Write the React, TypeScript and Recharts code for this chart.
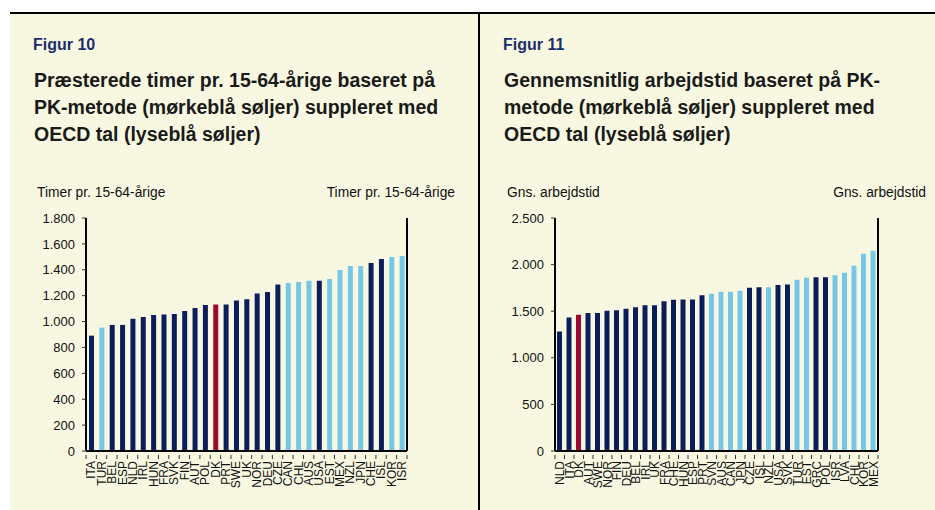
import React from 'react';
import { BarChart, Bar, XAxis, YAxis, Cell } from 'recharts';

const fig10Countries = ['ITA', 'TUR', 'BEL', 'ESP', 'NLD', 'IRL', 'HUN', 'FRA', 'SVK', 'FIN', 'AUT', 'POL', 'DK', 'PRT', 'SWE', 'UK', 'NOR', 'DEU', 'CZE', 'CAN', 'CHL', 'AUS', 'USA', 'EST', 'MEX', 'NZL', 'JPN', 'CHE', 'ISL', 'KOR', 'ISR'];
const fig10Hours = [891, 953, 974, 974, 1022, 1036, 1051, 1054, 1059, 1082, 1105, 1128, 1131, 1131, 1162, 1172, 1216, 1229, 1286, 1298, 1306, 1316, 1316, 1329, 1399, 1430, 1430, 1453, 1484, 1499, 1507];
const fig10Source = ['pk', 'oecd', 'pk', 'pk', 'pk', 'pk', 'pk', 'pk', 'pk', 'pk', 'pk', 'pk', 'dk', 'pk', 'pk', 'pk', 'pk', 'pk', 'pk', 'oecd', 'oecd', 'oecd', 'pk', 'oecd', 'oecd', 'oecd', 'oecd', 'pk', 'pk', 'oecd', 'oecd'];
const fig10Ticks = [0, 200, 400, 600, 800, 1000, 1200, 1400, 1600, 1800];

const fig11Countries = ['NLD', 'ITA', 'DK', 'AUT', 'SWE', 'NOR', 'FIN', 'DEU', 'BEL', 'IRL', 'UK', 'FRA', 'CHE', 'HUN', 'ESP', 'PRT', 'SVN', 'AUS', 'CAN', 'JPN', 'CZE', 'ISL', 'NZL', 'USA', 'SVK', 'TUR', 'EST', 'GRC', 'POL', 'ISR', 'LVA', 'CHL', 'KOR', 'MEX'];
const fig11Hours = [1282, 1432, 1461, 1482, 1482, 1504, 1511, 1525, 1543, 1565, 1565, 1608, 1622, 1625, 1625, 1672, 1686, 1708, 1708, 1719, 1751, 1758, 1758, 1780, 1786, 1837, 1858, 1865, 1865, 1887, 1912, 1987, 2116, 2148];
const fig11Source = ['pk', 'pk', 'dk', 'pk', 'pk', 'pk', 'pk', 'pk', 'pk', 'pk', 'pk', 'pk', 'pk', 'pk', 'pk', 'pk', 'oecd', 'oecd', 'oecd', 'oecd', 'pk', 'pk', 'oecd', 'pk', 'pk', 'oecd', 'oecd', 'pk', 'pk', 'oecd', 'oecd', 'oecd', 'oecd', 'oecd'];
const fig11Ticks = [0, 500, 1000, 1500, 2000, 2500];

const COLORS: Record<string, string> = {
  pk: '#0b1d5a',
  oecd: '#76c7e7',
  dk: '#9c0a33',
};
const BG = '#f8f8e2';
const FONT = '"Liberation Sans", Arial, sans-serif';

const fmt = (v: number) => v.toLocaleString('da-DK');

function makeXTick(n: number, step: number) {
  return (props: any) => {
    const { x, y, payload, index } = props;
    return (
      <g>
        <line x1={x - step / 2} x2={x - step / 2} y1={y - 4} y2={y} stroke="#333" strokeWidth={1} />
        {index === n - 1 && (
          <line x1={x + step / 2} x2={x + step / 2} y1={y - 4} y2={y} stroke="#333" strokeWidth={1} />
        )}
        <text
          x={x}
          y={y + 2}
          transform={`rotate(-90, ${x}, ${y + 2})`}
          textAnchor="end"
          dy="0.36em"
          fontSize={12}
          fontFamily={FONT}
          fill="#111"
        >
          {payload.value}
        </text>
      </g>
    );
  };
}

interface PanelProps {
  left: number;
  figur: string;
  title: string[];
  axisTitle: string;
  countries: string[];
  values: number[];
  sources: string[];
  ticks: number[];
  width: number;
  leftAxis: number;
  rightAxis: number;
  barSize: number;
}

function Panel(p: PanelProps) {
  const data = p.countries.map((c, i) => ({ country: c, value: p.values[i], source: p.sources[i] }));
  const max = p.ticks[p.ticks.length - 1];
  const plotW = p.width - p.leftAxis - p.rightAxis;
  const step = plotW / data.length;
  const tickStyle = { fontSize: 13, fontFamily: FONT, fill: '#111' };
  return (
    <div style={{ position: 'absolute', left: p.left, top: 0, width: p.width, height: 510 }}>
      <div style={{ position: 'absolute', left: 23, top: 36, fontFamily: FONT, fontWeight: 700, fontSize: 16, color: '#1b2f6b' }}>
        {p.figur}
      </div>
      <div style={{ position: 'absolute', left: 24, top: 67, fontFamily: FONT, fontWeight: 700, fontSize: 19.5, lineHeight: '27px', color: '#1a1a1a', whiteSpace: 'nowrap' }}>
        {p.title.map((t) => (
          <div key={t}>{t}</div>
        ))}
      </div>
      <div style={{ position: 'absolute', left: 27, top: 185, fontFamily: FONT, fontSize: 13.8, color: '#111' }}>{p.axisTitle}</div>
      <div style={{ position: 'absolute', right: p.width - (p.width - p.rightAxis + 48), top: 185, fontFamily: FONT, fontSize: 13.8, color: '#111' }}>
        {p.axisTitle}
      </div>
      <div style={{ position: 'absolute', left: 0, top: 200 }}>
        <BarChart width={p.width} height={300} data={data} margin={{ top: 18, right: 0, left: 0, bottom: 10 }} barCategoryGap={0}>
          <XAxis
            dataKey="country"
            interval={0}
            height={39}
            axisLine={{ stroke: '#000', strokeWidth: 2 }}
            tickLine={false}
            tick={makeXTick(data.length, step)}
          />
          <YAxis
            yAxisId="left"
            orientation="left"
            width={p.leftAxis}
            domain={[0, max]}
            ticks={p.ticks}
            tickFormatter={fmt}
            axisLine={{ stroke: '#000', strokeWidth: 2 }}
            tickLine={{ stroke: '#333' }}
            tickSize={4}
            tickMargin={7}
            tick={tickStyle}
          />
          <YAxis
            yAxisId="right"
            orientation="right"
            width={p.rightAxis}
            domain={[0, max]}
            ticks={p.ticks}
            tickFormatter={fmt}
            axisLine={{ stroke: '#000', strokeWidth: 2 }}
            tickLine={{ stroke: '#333' }}
            tickSize={4}
            tickMargin={7}
            tick={tickStyle}
          />
          <Bar yAxisId="left" dataKey="value" barSize={p.barSize} isAnimationActive={false}>
            {data.map((d) => (
              <Cell key={d.country} fill={COLORS[d.source]} />
            ))}
          </Bar>
        </BarChart>
      </div>
    </div>
  );
}

export default function App() {
  return (
    <div style={{ position: 'absolute', left: 0, top: 0, width: 935, height: 510, background: '#fff', overflow: 'hidden' }}>
      <div style={{ position: 'absolute', left: 10, top: 13, width: 925, height: 497, background: BG }} />
      <div style={{ position: 'absolute', left: 10, top: 12, width: 925, height: 2, background: '#000' }} />
      <div style={{ position: 'absolute', left: 478, top: 13, width: 2, height: 497, background: '#000' }} />
      <Panel
        left={10}
        figur="Figur 10"
        title={['Præsterede timer pr. 15-64-årige baseret på', 'PK-metode (mørkeblå søljer) suppleret med', 'OECD tal (lyseblå søljer)']}
        axisTitle="Timer pr. 15-64-årige"
        countries={fig10Countries}
        values={fig10Hours}
        sources={fig10Source}
        ticks={fig10Ticks}
        width={460}
        leftAxis={76}
        rightAxis={63}
        barSize={5}
      />
      <Panel
        left={480}
        figur="Figur 11"
        title={['Gennemsnitlig arbejdstid baseret på PK-', 'metode (mørkeblå søljer) suppleret med', 'OECD tal (lyseblå søljer)']}
        axisTitle="Gns. arbejdstid"
        countries={fig11Countries}
        values={fig11Hours}
        sources={fig11Source}
        ticks={fig11Ticks}
        width={455}
        leftAxis={75}
        rightAxis={57}
        barSize={5}
      />
    </div>
  );
}
